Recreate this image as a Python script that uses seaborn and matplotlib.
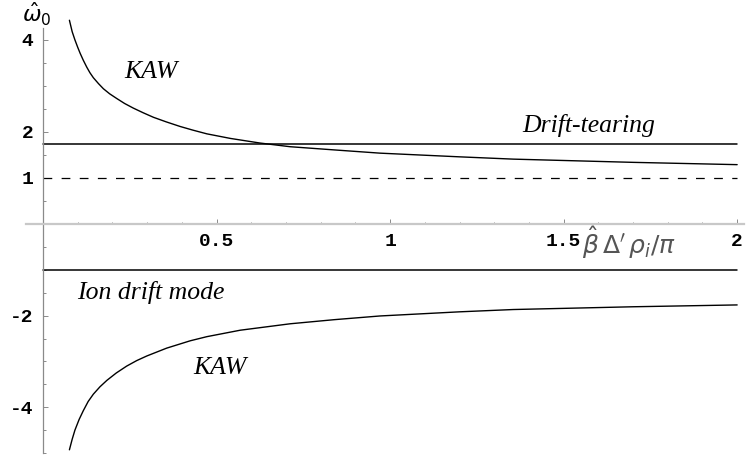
import matplotlib
matplotlib.use("Agg")
import matplotlib.pyplot as plt
import seaborn as sns
import pandas as pd

# values
kaw_up_x = [0.076, 0.084, 0.092, 0.100, 0.107, 0.116, 0.126, 0.135, 0.145, 0.160, 0.174,
            0.192, 0.212, 0.235, 0.260, 0.288, 0.318, 0.355, 0.395, 0.432, 0.472, 0.540,
            0.625, 0.712, 0.840, 0.971, 1.200, 1.355, 1.700, 2.0]
kaw_up_y = [4.42, 4.17, 3.99, 3.83, 3.70, 3.55, 3.40, 3.28, 3.17, 3.04, 2.93,
            2.82, 2.72, 2.61, 2.51, 2.41, 2.31, 2.21, 2.11, 2.03, 1.95, 1.85,
            1.75, 1.67, 1.60, 1.53, 1.45, 1.40, 1.33, 1.28]
kaw_lo_x = [0.076, 0.084, 0.092, 0.104, 0.116, 0.130, 0.145, 0.164, 0.184, 0.211, 0.241,
            0.270, 0.299, 0.356, 0.424, 0.472, 0.568, 0.712, 0.840, 0.971, 1.200, 1.355,
            1.700, 2.0]
kaw_lo_y = [-4.92, -4.69, -4.49, -4.26, -4.07, -3.87, -3.71, -3.55, -3.41, -3.25, -3.10,
            -2.98, -2.88, -2.71, -2.55, -2.46, -2.32, -2.18, -2.09, -2.01, -1.92, -1.87,
            -1.81, -1.77]
line_x = [0.0, 2.0]
drift_tearing = 1.735
ion_drift = -1.0
unit_level = 1.0

x_major = [0.5, 1.0, 1.5, 2.0]
x_major_labels = ["0.5", "1", "1.5", "2"]
y_major = [-4, -2, 1, 2, 4]
y_major_labels = ["-4", "-2", "1", "2", "4"]

sns.set_style("white")
plt.rcParams["axes.unicode_minus"] = False

fig = plt.figure(figsize=(7.5, 4.59), dpi=100)
ax = fig.add_axes([0, 0, 1, 1])

df_up = pd.DataFrame({"x": kaw_up_x, "y": kaw_up_y})
df_lo = pd.DataFrame({"x": kaw_lo_x, "y": kaw_lo_y})
sns.lineplot(data=df_up, x="x", y="y", color="black", lw=1.0, ax=ax)
sns.lineplot(data=df_lo, x="x", y="y", color="black", lw=1.0, ax=ax)
sns.lineplot(x=line_x, y=[drift_tearing] * 2, color="black", lw=1.1, ax=ax)
sns.lineplot(x=line_x, y=[ion_drift] * 2, color="black", lw=1.1, ax=ax)
sns.lineplot(x=line_x, y=[unit_level] * 2, color="black", lw=0.9,
             linestyle=(0, (7, 7.5)), ax=ax)

ax.set_xlim(-0.124, 2.037)
ax.set_ylim(-5.12, 4.86)
ax.set_xlabel("")
ax.set_ylabel("")

# axes through the origin, Mathematica style
for s in ["top", "right"]:
    ax.spines[s].set_visible(False)
ax.spines["left"].set_position(("data", 0))
ax.spines["bottom"].set_position(("data", 0))
ax.spines["left"].set_bounds(-5.0, 4.25)
ax.spines["bottom"].set_bounds(-0.05, 2.02)
ax.spines["left"].set_color("#8a8a8a")
ax.spines["left"].set_linewidth(0.9)
ax.spines["bottom"].set_color("#c8c8c8")
ax.spines["bottom"].set_linewidth(1.6)

ax.set_xticks(x_major)
ax.set_xticklabels(x_major_labels)
ax.set_xticks([i / 10 for i in range(1, 20) if i % 5], minor=True)
ax.set_yticks(y_major)
ax.set_yticklabels(y_major_labels)
ax.set_yticks([v / 2 for v in range(-10, 9) if v not in (0, -8, -4, 2, 4, 8)], minor=True)
ax.tick_params(which="both", direction="in", color="#8a8a8a", width=0.7,
               bottom=True, left=True)
ax.tick_params(which="major", length=3.4)
ax.tick_params(which="minor", length=1.8)
ax.tick_params(axis="x", which="major", pad=7)
ax.tick_params(axis="y", which="major", pad=7)
for lab in ax.get_xticklabels() + ax.get_yticklabels():
    lab.set_fontfamily("Liberation Mono")
    lab.set_fontweight("bold")
    lab.set_fontsize(14)
    lab.set_color("black")

lab_font = dict(family="Liberation Serif", style="italic", fontsize=18.5, color="black",
                ha="center", va="center")
ax.text(0.311, 3.29, "KAW", **lab_font)
ax.text(1.571, 2.13, "Drift-tearing", **lab_font)
ax.text(0.311, -1.49, "Ion drift mode", **lab_font)
ax.text(0.51, -3.14, "KAW", **lab_font)

ax.text(1.69, -0.42, r"$\hat{\beta}\,\Delta'\,\rho_{i}/\pi$", fontsize=18, color="#555555",
        ha="center", va="center")
ax.text(-0.062, 4.84, r"$\hat{\omega}_0$", fontsize=16, color="black",
        ha="left", va="top")

fig.savefig("out.png", dpi=100)
